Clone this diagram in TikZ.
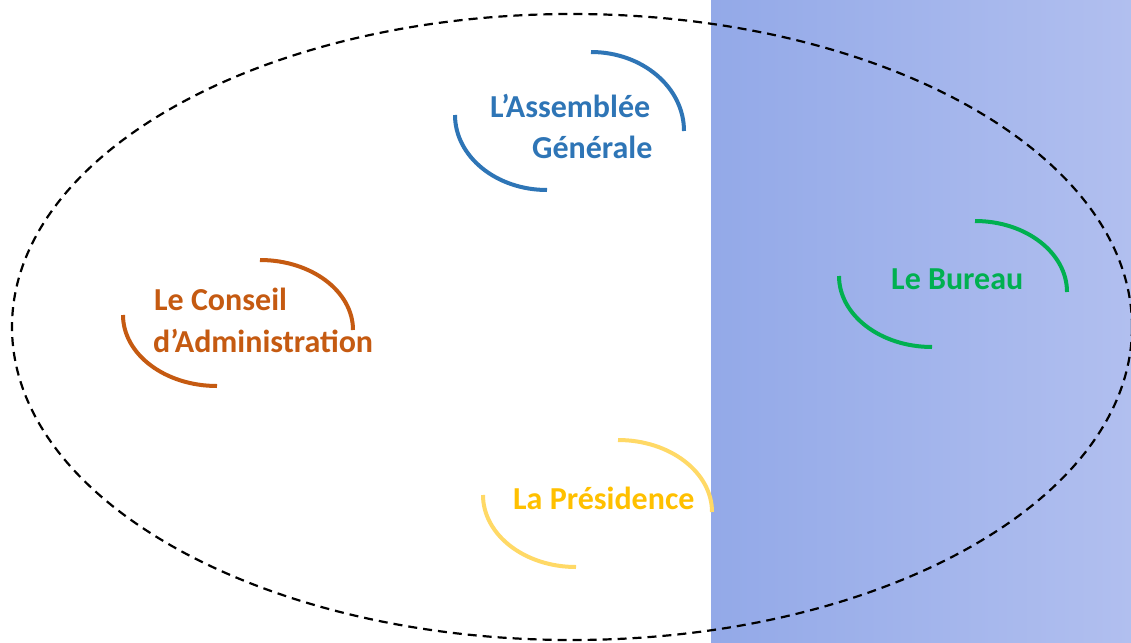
\documentclass[tikz,border=0pt]{standalone}
\usepackage{fontspec}
\setmainfont{Carlito}
\begin{document}
\begin{tikzpicture}[x=1pt,y=-1pt,
  lbl/.style={inner sep=0pt,anchor=base west,font=\bfseries\fontsize{32}{38}\selectfont},
  arcline/.style={line width=4pt},
  ring/.style={draw=black,line width=2.2pt,dash pattern=on 9pt off 6pt}]
\definecolor{agblue}{HTML}{2E75B6}
\definecolor{caorange}{HTML}{C55A11}
\definecolor{prgold}{HTML}{FFC000}
\definecolor{prarc}{HTML}{FFD966}
\definecolor{bugreen}{HTML}{00B050}
\definecolor{bandleft}{RGB}{147,169,232}
\definecolor{bandright}{RGB}{177,191,239}
\useasboundingbox (0,0) rectangle (1131,642);
\fill[white] (0,0) rectangle (1131,642);
% shaded band on the right
\shade[left color=bandleft,right color=bandright] (711,0) rectangle (1131,642);
% outer dashed ellipse
\draw[ring] (572,327) ellipse [x radius=560,y radius=313];
% Assemblée Générale
\draw[arcline,agblue] (591,52) arc[start angle=-90,end angle=0,x radius=93,y radius=79];
\draw[arcline,agblue] (455,115) arc[start angle=180,end angle=90,x radius=92,y radius=75];
\node[lbl,text=agblue] (ag1) at (490,117) {L’Assemblée};
\node[lbl,text=agblue] (ag2) at (532,158) {Générale};
% Conseil d'Administration
\draw[arcline,caorange] (260,260) arc[start angle=-90,end angle=0,x radius=93,y radius=70];
\draw[arcline,caorange] (123,315) arc[start angle=180,end angle=90,x radius=94,y radius=71];
\node[lbl,text=caorange] (ca1) at (154,310) {Le Conseil};
\node[lbl,text=caorange] (ca2) at (153,352) {d’Administration};
% Présidence
\draw[arcline,prarc] (618,440) arc[start angle=-90,end angle=0,x radius=94,y radius=72];
\draw[arcline,prarc] (483,495) arc[start angle=180,end angle=90,x radius=93,y radius=72];
\node[lbl,text=prgold] (pr) at (513,509) {La Présidence};
% Bureau
\draw[arcline,bugreen] (975,221) arc[start angle=-90,end angle=0,x radius=92,y radius=71];
\draw[arcline,bugreen] (839,276) arc[start angle=180,end angle=90,x radius=93,y radius=71];
\node[lbl,text=bugreen] (bu) at (891,289) {Le Bureau};
\end{tikzpicture}
\end{document}
